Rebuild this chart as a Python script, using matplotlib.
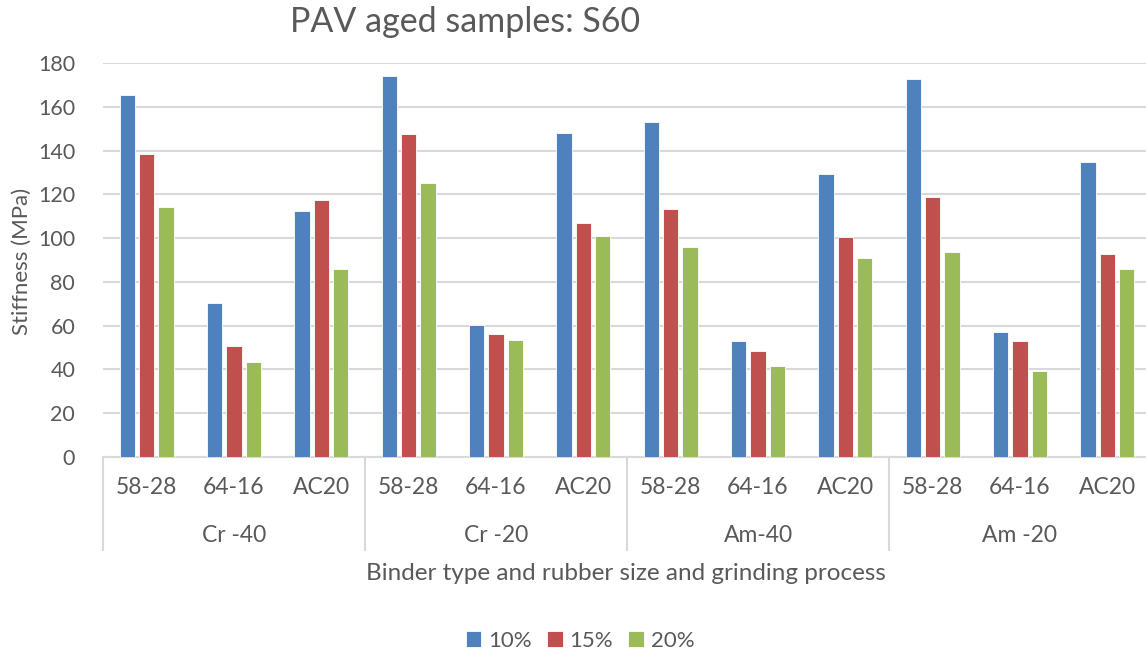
import numpy as np
import matplotlib.pyplot as plt

plt.rcParams['font.family'] = ['Lato', 'DejaVu Sans']

# data
groups = ['Cr -40', 'Cr -20', 'Am-40', 'Am -20']
binders = ['58-28', '64-16', 'AC20']
series = ['10%', '15%', '20%']
s10 = [165.6, 70.4, 112.5, 174.0, 60.5, 148.2, 153.2, 53.0, 129.3, 172.5, 57.2, 134.9]
s15 = [138.2, 50.7, 117.6, 147.7, 56.0, 106.7, 113.3, 48.2, 100.6, 118.9, 53.0, 92.9]
s20 = [114.0, 43.3, 86.0, 125.4, 53.3, 101.0, 96.0, 41.6, 91.1, 93.5, 39.5, 85.7]
colors = ['#4F81BD', '#C0504D', '#9BBB59']

txt = '#595959'
grid = '#D9D9D9'

fig = plt.figure(figsize=(11.46, 6.54), dpi=100)
W, H = 1146, 654
ax = fig.add_axes([103/W, (H-457)/H, (1151-103)/W, 394/H])

n = len(s10)
x = np.arange(n) + 0.5
width = 0.175
step = 0.222
for k, (vals, c, lab) in enumerate(zip([s10, s15, s20], colors, series)):
    ax.bar(x + (k-1)*step, vals, width, color=c, edgecolor='white', linewidth=0.6, label=lab, zorder=3)

ax.set_xlim(0, n)
ax.set_ylim(0, 180)
ax.set_yticks(range(0, 181, 20))
ax.tick_params(axis='y', length=0, labelsize=15.5, labelcolor=txt, pad=20)
ax.yaxis.grid(True, color=grid, linewidth=1.5, zorder=0)
for s in ['top', 'right', 'left']:
    ax.spines[s].set_visible(False)
ax.spines['bottom'].set_color(grid)
ax.spines['bottom'].set_linewidth(1.5)

# two-level category axis
ax.set_xticks([])
tr = ax.get_xaxis_transform()
px = 1/394
for i in range(n):
    ax.text(x[i], -30*px, binders[i % 3], transform=tr, ha='center', va='center',
            fontsize=16.5, color=txt)
for g, name in enumerate(groups):
    ax.text(g*3 + 1.5, -78*px, name, transform=tr, ha='center', va='center',
            fontsize=16.5, color=txt)
for b in range(0, n + 1, 3):
    ax.plot([b, b], [0, -93*px], transform=tr, color=grid, linewidth=1.5, clip_on=False)

fig.text(22/W, 1 - 261/H, 'Stiffness (MPa)', rotation=90, ha='center', va='center',
         fontsize=16, color=txt)
fig.text(626/W, 1 - 573/H, 'Binder type and rubber size and grinding process',
         ha='center', va='center', fontsize=17.5, color=txt)
fig.text(465/W, 1 - 22/H, 'PAV aged samples: S60', ha='center', va='center',
         fontsize=24.5, color=txt)

fig.legend(loc='center', bbox_to_anchor=(580/W, 1 - 641/H), ncol=3, frameon=False,
           fontsize=16, labelcolor=txt, handlelength=0.7, handleheight=0.7,
           handletextpad=0.3, columnspacing=0.7)

fig.savefig('out.png', dpi=100)
